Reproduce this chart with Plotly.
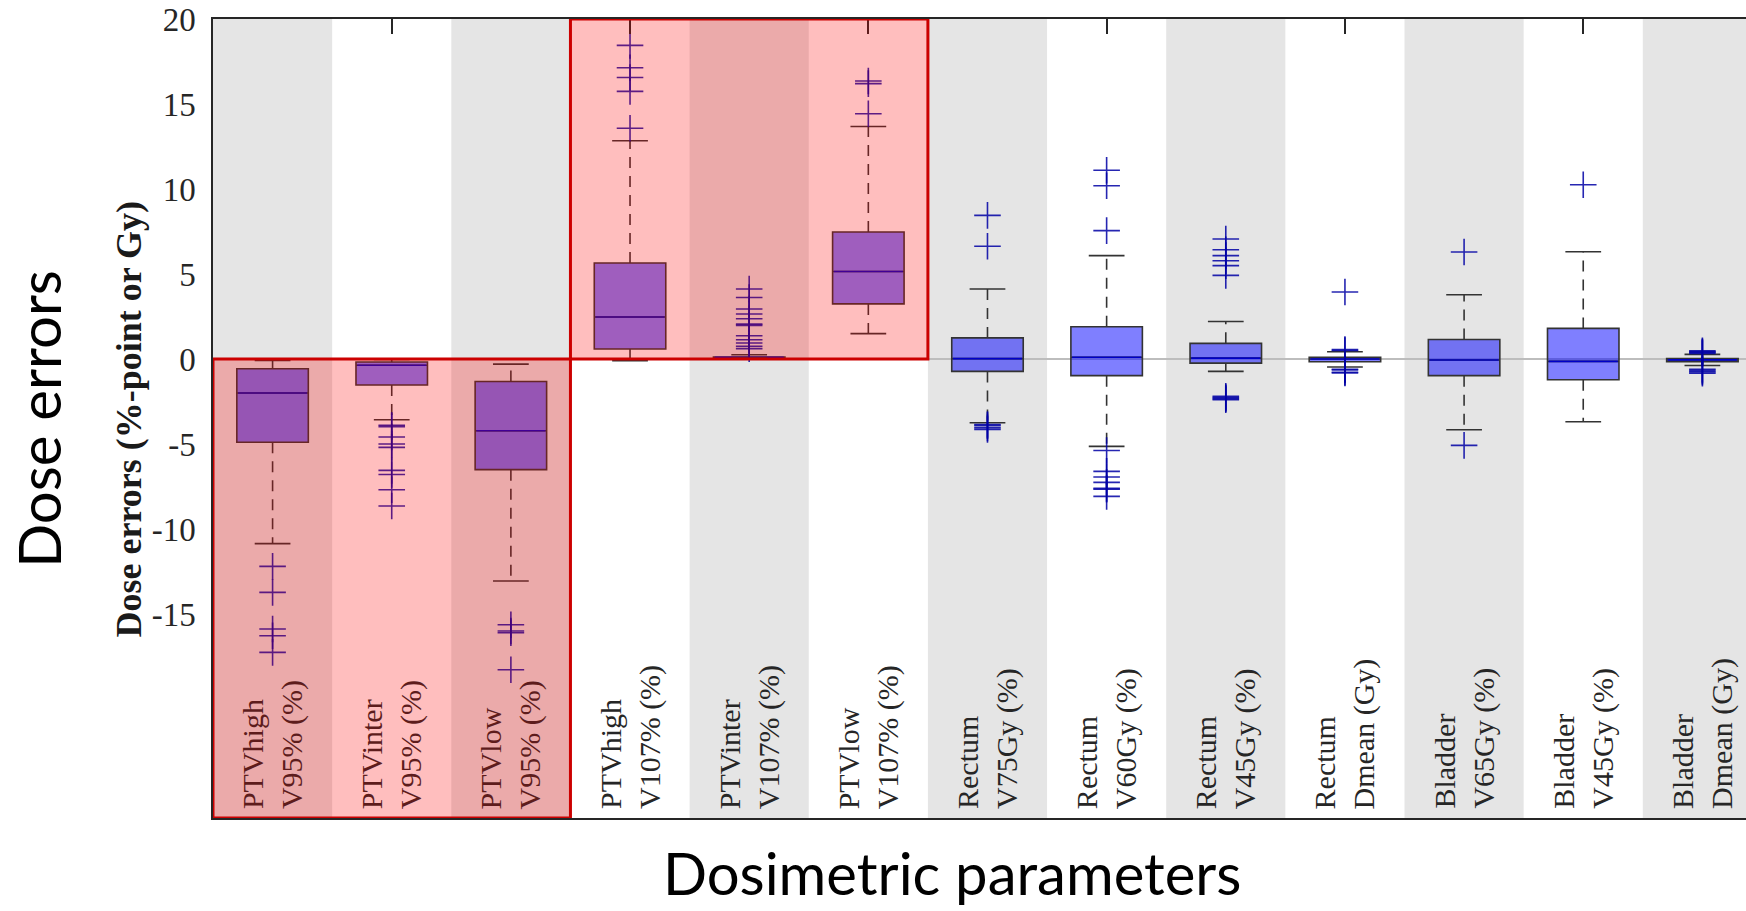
import plotly.graph_objects as go

# ---------------- data ----------------
label_line1 = ["PTVhigh", "PTVinter", "PTVlow", "PTVhigh", "PTVinter", "PTVlow",
               "Rectum", "Rectum", "Rectum", "Rectum", "Bladder", "Bladder", "Bladder"]
label_line2 = ["V95% (%)", "V95% (%)", "V95% (%)", "V107% (%)", "V107% (%)", "V107% (%)",
               "V75Gy (%)", "V60Gy (%)", "V45Gy (%)", "Dmean (Gy)", "V65Gy (%)", "V45Gy (%)", "Dmean (Gy)"]

lower_whisker = [-10.86, -3.57, -13.06, -0.10, 0.05, 1.49, -3.75, -5.14, -0.73, -0.47, -4.16, -3.69, -0.38]
q1 = [-4.90, -1.53, -6.51, 0.59, 0.07, 3.24, -0.73, -0.98, -0.24, -0.16, -0.98, -1.22, -0.16]
median = [-2.00, -0.37, -4.22, 2.47, 0.10, 5.15, 0.02, 0.10, 0.05, 0.00, -0.06, -0.14, -0.05]
q3 = [-0.57, -0.18, -1.32, 5.65, 0.12, 7.47, 1.24, 1.90, 0.92, 0.10, 1.15, 1.80, 0.02]
upper_whisker = [-0.08, -0.02, -0.30, 12.84, 0.25, 13.68, 4.12, 6.08, 2.21, 0.43, 3.78, 6.31, 0.27]

outliers_ptvhigh_v95 = [-12.2, -13.73, -15.88, -16.28, -17.26]
outliers_ptvinter_v95 = [-3.90, -3.98, -4.59, -5.0, -5.2, -6.55, -6.79, -7.69, -8.65]
outliers_ptvlow_v95 = [-15.63, -16.0, -16.1, -18.28]
outliers_ptvhigh_v107 = [13.57, 15.74, 16.56, 17.13, 18.45]
outliers_ptvinter_v107 = [0.6, 0.74, 0.94, 1.13, 1.37, 1.98, 2.05, 2.37, 2.65, 2.94, 3.62, 4.12]
outliers_ptvlow_v107 = [14.43, 16.2, 16.35]
outliers_rectum_v75 = [8.45, 6.63, -3.85, -3.92, -4.05, -4.15]
outliers_rectum_v60 = [11.1, 10.19, 7.55, -5.38, -6.61, -6.94, -7.26, -7.61, -7.66, -8.08]
outliers_rectum_v45 = [7.06, 6.43, 6.08, 5.78, 5.49, 4.92, -2.2, -2.27, -2.33, -2.4]
outliers_rectum_dmean = [3.94, 0.5, 0.55, -0.6, -0.65, -0.78, -0.82]
outliers_bladder_v65 = [6.29, -5.08]
outliers_bladder_v45 = [10.25]
outliers_bladder_dmean = [0.32, 0.38, 0.42, 0.48, -0.6, -0.68, -0.76, -0.84]

outliers = [outliers_ptvhigh_v95, outliers_ptvinter_v95, outliers_ptvlow_v95,
            outliers_ptvhigh_v107, outliers_ptvinter_v107, outliers_ptvlow_v107,
            outliers_rectum_v75, outliers_rectum_v60, outliers_rectum_v45, outliers_rectum_dmean,
            outliers_bladder_v65, outliers_bladder_v45, outliers_bladder_dmean]

y_ticks = [-15, -10, -5, 0, 5, 10, 15, 20]
y_range = [-27, 20]
# highlighted groups: (first column, last column, y from, y to)
highlight_v95 = (0, 2, -27, 0)
highlight_v107 = (3, 5, 0, 20)

# ---------------- styling ----------------
n = len(label_line1)
pos = list(range(n))
BOX_W = 0.6
CAP_W = 0.3
X_RANGE = [-0.5, 12.366]
SERIF = "Liberation Serif"
DARK = "#262626"
BOX_EDGE = "#333333"

fig = go.Figure()

# alternating background bands
for i in pos:
    if i % 2 == 0:
        fig.add_shape(type="rect", xref="x", yref="paper", x0=i - 0.5, x1=i + 0.5, y0=0, y1=1,
                      fillcolor="#e5e5e5", line=dict(width=0), layer="below")

# boxes
fig.add_trace(go.Box(
    x=pos, q1=q1, median=median, q3=q3, lowerfence=q1, upperfence=q3,
    width=BOX_W, whiskerwidth=0, boxpoints=False,
    fillcolor="rgba(0,0,255,0.5)", line=dict(color=BOX_EDGE, width=1.6),
    hoverinfo="skip", showlegend=False))

# medians
mx, my = [], []
for i in pos:
    mx += [i - BOX_W / 2 + 0.01, i + BOX_W / 2 - 0.01, None]
    my += [median[i], median[i], None]
fig.add_trace(go.Scatter(x=mx, y=my, mode="lines", line=dict(color="#0000c8", width=1.6),
                         hoverinfo="skip", showlegend=False))

# dashed whiskers
wx, wy = [], []
for i in pos:
    wx += [i, i, None, i, i, None]
    wy += [q3[i], upper_whisker[i], None, q1[i], lower_whisker[i], None]
fig.add_trace(go.Scatter(x=wx, y=wy, mode="lines", line=dict(color=BOX_EDGE, width=1.6, dash="11px,8px"),
                         hoverinfo="skip", showlegend=False))

# caps
cx, cy = [], []
for i in pos:
    cx += [i - CAP_W / 2, i + CAP_W / 2, None, i - CAP_W / 2, i + CAP_W / 2, None]
    cy += [upper_whisker[i], upper_whisker[i], None, lower_whisker[i], lower_whisker[i], None]
fig.add_trace(go.Scatter(x=cx, y=cy, mode="lines", line=dict(color=BOX_EDGE, width=1.6),
                         hoverinfo="skip", showlegend=False))

# outliers
ox, oy = [], []
for i in pos:
    for v in outliers[i]:
        ox.append(i)
        oy.append(v)
OUT_COL = "rgba(0,0,165,0.85)"
fig.add_trace(go.Scatter(x=ox, y=oy, mode="markers", xaxis="x2",
                         marker=dict(symbol="cross-thin", size=19, color=OUT_COL,
                                     line=dict(color=OUT_COL, width=1.6)),
                         hoverinfo="skip", showlegend=False))

# red highlight rectangles (on top)
for (c0, c1, ya, yb) in (highlight_v95, highlight_v107):
    fig.add_shape(type="rect", xref="x", yref="y", x0=c0 - 0.5, x1=c1 + 0.5, y0=ya, y1=yb,
                  fillcolor="rgba(255,0,0,0.255)", line=dict(color="#cc0000", width=3), layer="above")

# category labels
for i in pos:
    in_red = highlight_v95[0] <= i <= highlight_v95[1]
    col = "#5d1c1c" if in_red else DARK
    fig.add_annotation(x=i, y=y_range[0], xref="x", yref="y", yanchor="bottom", xanchor="center",
                       yshift=7, textangle=-90, align="left", showarrow=False,
                       text=label_line1[i] + "<br>" + label_line2[i],
                       font=dict(family=SERIF, size=30, color=col))

# axis titles
fig.add_annotation(x=-0.0548, y=0.5, xref="paper", yref="paper", xanchor="center", yanchor="middle",
                   textangle=-90, showarrow=False, text="Dose errors (%-point or Gy)",
                   font=dict(family=SERIF, size=36, color="#1a1a1a", weight="bold"))
fig.add_annotation(x=-0.1138, y=0.499, xref="paper", yref="paper", xanchor="center", yanchor="middle",
                   textangle=-90, showarrow=False, text="Dose errors",
                   font=dict(family="Lato", size=58, color="black"))
fig.add_annotation(x=0.482, y=-0.1145, xref="paper", yref="paper", xanchor="center", yanchor="bottom",
                   showarrow=False, text="Dosimetric parameters",
                   font=dict(family="Lato", size=58, color="black"))

fig.update_layout(
    width=1746, height=911, autosize=False,
    margin=dict(l=213, r=0, t=19, b=93, pad=0),
    paper_bgcolor="white", plot_bgcolor="white",
    showlegend=False,
    xaxis=dict(range=X_RANGE, showline=True, mirror=True, linecolor=DARK, linewidth=1.5,
               showticklabels=False, ticks="", showgrid=False, zeroline=False, fixedrange=True),
    xaxis2=dict(range=X_RANGE, overlaying="x", side="top", anchor="y",
                tickvals=[i for i in pos if i % 2 == 1], ticks="inside", ticklen=15, tickwidth=1.5,
                tickcolor=DARK, showticklabels=False, showline=False, showgrid=False, zeroline=False),
    yaxis=dict(range=y_range, tickvals=y_ticks, ticktext=[str(t) for t in y_ticks], ticks="",
               showline=True, linecolor=DARK, linewidth=1.5, showgrid=False,
               zeroline=True, zerolinecolor="#bdbdbd", zerolinewidth=2,
               tickfont=dict(family=SERIF, size=33, color=DARK), ticklabelstandoff=9),
)

fig.write_html("out.html")
